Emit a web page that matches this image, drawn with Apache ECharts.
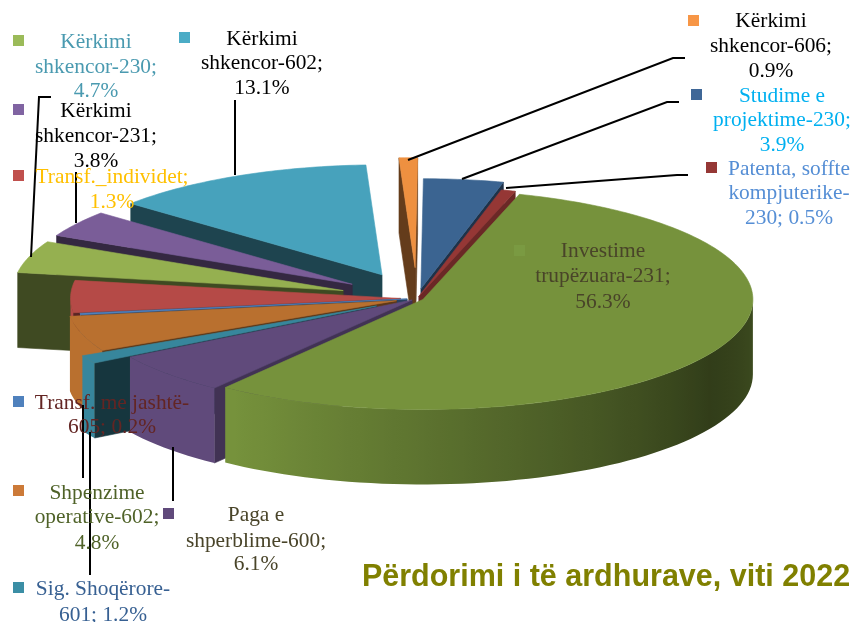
<!DOCTYPE html>
<html><head><meta charset="utf-8">
<style>html,body{margin:0;padding:0;background:#fff}#c{width:866px;height:622px}</style>
<script src="https://cdn.jsdelivr.net/npm/echarts@6/dist/echarts.min.js"></script>
</head><body><div id="c"></div>
<script>
// DATA: clockwise from the top of the pie
const sliceNames = ['Kërkimi shkencor-606','Studime e projektime-230','Patenta, soffte kompjuterike-230','Investime trupëzuara-231','Paga e shperblime-600','Sig. Shoqërore-601','Shpenzime operative-602','Transf. me jashtë-605','Transf._individet','Kërkimi shkencor-230','Kërkimi shkencor-231','Kërkimi shkencor-602'];
const labelPercents = ['0.9%','3.9%','0.5%','56.3%','6.1%','1.2%','4.8%','0.2%','1.3%','4.7%','3.8%','13.1%'];
// shares as drawn (they differ a little from the printed labels)
const sliceShares = [0.9,3.9,0.7,55.5,6.1,1.2,5.2,0.2,4.7,4.7,3.9,13.0];

// STYLE / LAYOUT
const topColors  = ['#ee9040','#3b6491','#953735','#76923c','#604a7b','#37869c','#b9702f','#4f81bd','#b54a47','#95b050','#7a5d98','#47a2bc'];
const keyColors  = ['#f79646','#3f6797','#953735','#7a9a42','#604a7b','#3b8ea5','#cc7a38','#4f81bd','#c0504d','#9bbb59','#8064a2','#4bacc6'];
const textColors = ['#000','#00b0f0','#558ed5','#494429','#494429','#376092','#4f6228','#632523','#ffc000','#4a9ab0','#000','#000'];
const explode    = [.28,.09,.02,.02,.02,.14,.065,.03,.05,.235,.235,.24];
const paintOrder = [0,11,10,9,1,2,8,7,6,5,4,3];
const radialShade= [.42,.5,.72,.6,.68,.4,.5,.5,.5,.42,.43,.42];
const labelLayout = [
 {x:771,y:[21,46,71],text:['Kërkimi','shkencor-606;']},
 {x:782,y:[96,120,145],text:['Studime e','projektime-230;']},
 {x:789,y:[169,193,218],text:['Patenta, soffte','kompjuterike-','230; 0.5%'],noPct:true},
 {x:603,y:[251,276,302],text:['Investime','trupëzuara-231;']},
 {x:256,y:[515,541,564],text:['Paga e','shperblime-600;']},
 {x:103,y:[589,615],text:['Sig. Shoqërore-','601; 1.2%'],noPct:true},
 {x:97,y:[493,517,543],text:['Shpenzime','operative-602;']},
 {x:112,y:[403,427],text:['Transf. me jashtë-','605; 0.2%'],noPct:true},
 {x:112,y:[177,202],text:['Transf._individet;']},
 {x:96,y:[42,67,91],text:['Kërkimi','shkencor-230;']},
 {x:96,y:[111,136,161],text:['Kërkimi','shkencor-231;']},
 {x:262,y:[39,63,88],text:['Kërkimi','shkencor-602;']}
];
const keyPos = [[688,15],[691,89],[706,162],[514,245],[163,508],[13,582],[13,485],[13,396],[13,170],[13,35],[13,104],[179,32]];
const leaders = [
 [[408,160],[673,58],[685,58]],
 [[462,179],[667,102],[679,102]],
 [[506,188],[677,175],[688,175]],
 [[173,447],[173,501]],
 [[90,432],[90,575]],
 [[83,405],[83,478]],
 [[31,257],[39,97],[51,97]],
 [[76,223],[76,172]],
 [[235,175],[235,100]]
];
const CX=417, CY=298.5, RX=330, RY=110, THICK=75, START=-2.8;
const total = sliceShares.reduce((a,b)=>a+b,0);
const starts=[]; sliceShares.reduce((acc,v,i)=>{starts[i]=acc;return acc+v/total*360;},START);

function shade(hex,f){
  const n=parseInt(hex.slice(1),16);
  const c=[n>>16&255,n>>8&255,n&255].map(v=>Math.round(v*f));
  return 'rgb('+c.join(',')+')';
}
function arcShade(t){ // t in degrees
  t=((t%360)+360)%360;
  if(t>=215) return 1;
  if(t>=120) return .42+(t-120)/95*.58;
  return .42+(120-t)/30*.1;
}
const rad=d=>d*Math.PI/180;

function renderSlice(params,api){
  const i=api.value(0), share=api.value(1);
  const a0=starts[i], a1=a0+share/total*360, mid=(a0+a1)/2;
  const ax=CX+explode[i]*RX*Math.sin(rad(mid)), ay=CY-explode[i]*RY*Math.cos(rad(mid));
  const rim=t=>[ax+RX*Math.sin(rad(t)),ay-RY*Math.cos(rad(t))];
  const down=p=>[p[0],p[1]+THICK];
  const z=paintOrder.indexOf(i)*10, base=topColors[i], kids=[];
  const poly=(pts,fill,zz)=>kids.push({type:'polygon',z2:z+zz,shape:{points:pts},style:{fill:fill,stroke:fill,lineWidth:.6}});
  const wallC=shade(base,radialShade[i]);
  if(Math.sin(rad(a0))<0){const p=rim(a0);poly([[ax,ay],p,down(p),[ax,ay+THICK]],wallC,1);}
  if(Math.sin(rad(a1))>0){const p=rim(a1);poly([[ax,ay],p,down(p),[ax,ay+THICK]],wallC,1);}
  // outer wall: only the part that faces the viewer, one polygon with a horizontal gradient
  const f0=Math.max(a0,90), f1=Math.min(a1,270);
  if(f1>f0){
    const top=[], bot=[], samples=[];
    const n=Math.max(2,Math.ceil((f1-f0)/2));
    for(let k=0;k<=n;k++){
      const t=f0+(f1-f0)*k/n, p=rim(t);
      top.push(p); bot.unshift(down(p)); samples.push({x:p[0],t:t});
    }
    const xr=samples[0].x, xl=samples[n].x, w=Math.max(1,xr-xl);
    const stops=samples.map(s=>({offset:Math.min(1,Math.max(0,(s.x-xl)/w)),color:shade(base,arcShade(s.t))})).reverse();
    const g=new echarts.graphic.LinearGradient(xl,0,xr,0,stops,true);
    kids.push({type:'polygon',z2:z+2,shape:{points:top.concat(bot)},style:{fill:g}});
  }
  const pts=[[ax,ay]];
  for(let t=a0;t<a1;t+=Math.min(1,a1-a0)) pts.push(rim(t));
  pts.push(rim(a1));
  poly(pts,base,5);
  return {type:'group',children:kids};
}

const gfx=[];
labelLayout.forEach((l,i)=>{
  const lines=l.noPct?l.text:l.text.concat([labelPercents[i]]);
  lines.forEach((s,k)=>gfx.push({type:'text',z:20,style:{text:s,x:l.x,y:l.y[k],align:'center',verticalAlign:'middle',font:'21.4px "Liberation Serif"',fill:textColors[i]}}));
  gfx.push({type:'rect',z:20,shape:{x:keyPos[i][0],y:keyPos[i][1],width:11,height:11},style:{fill:keyColors[i]}});
});
leaders.forEach(p=>gfx.push({type:'polyline',z:15,shape:{points:p},style:{stroke:'#000',lineWidth:2,fill:null}}));
gfx.push({type:'text',z:20,style:{text:'Përdorimi i të ardhurave, viti 2022',x:606,y:578,align:'center',verticalAlign:'middle',font:'bold 30.5px "Liberation Sans"',fill:'#808000'}});

const chart=echarts.init(document.getElementById('c'),null,{renderer:'canvas'});
chart.setOption({
  animation:false,backgroundColor:'#fff',
  graphic:{elements:gfx},
  series:[{type:'custom',coordinateSystem:'none',renderItem:renderSlice,silent:true,
    encode:{value:[1]},
    data:sliceShares.map((v,i)=>({name:sliceNames[i],value:[i,v]}))}]
});
</script></body></html>
